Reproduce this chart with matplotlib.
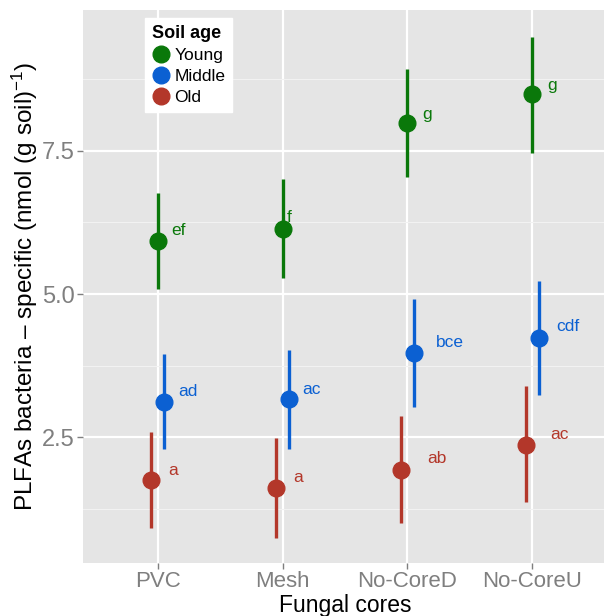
import numpy as np
import matplotlib
matplotlib.use('Agg')
import matplotlib.pyplot as plt
from matplotlib.lines import Line2D

plt.rcParams['font.family'] = ['Liberation Sans', 'DejaVu Sans']
plt.rcParams['mathtext.fontset'] = 'custom'
plt.rcParams['mathtext.rm'] = 'Liberation Sans'
plt.rcParams['mathtext.it'] = 'Liberation Sans:italic'

cores = ['PVC', 'Mesh', 'No-CoreD', 'No-CoreU']
ages = ['Young', 'Middle', 'Old']

young_mean = [5.92, 6.13, 7.98, 8.49]
young_lo = [5.09, 5.28, 7.05, 7.47]
young_hi = [6.76, 7.00, 8.92, 9.49]
young_letters = ['ef', 'f', 'g', 'g']

middle_mean = [3.12, 3.16, 3.98, 4.23]
middle_lo = [2.30, 2.30, 3.03, 3.23]
middle_hi = [3.95, 4.02, 4.91, 5.23]
middle_letters = ['ad', 'ac', 'bce', 'cdf']

old_mean = [1.75, 1.61, 1.93, 2.37]
old_lo = [0.92, 0.75, 1.00, 1.37]
old_hi = [2.59, 2.49, 2.88, 3.39]
old_letters = ['a', 'a', 'ab', 'ac']

colors = {'Young': '#0a780a', 'Middle': '#0b60d2', 'Old': '#b3372a'}
dodge = {'Young': 0.0, 'Middle': 0.052, 'Old': -0.052}
# letter offsets in points (dx, dy) from each point
letter_dx = {'Young': [9.6, 3.1, 10.8, 11.0],
             'Middle': [10.1, 9.6, 16.1, 13.0],
             'Old': [11.8, 12.0, 18.7, 18.0]}
letter_dy = {'Young': [7.7, 8.4, 6.5, 6.3],
             'Middle': [7.4, 7.5, 7.4, 8.1],
             'Old': [7.2, 7.6, 8.1, 7.4]}

series = {
    'Young': (young_mean, young_lo, young_hi, young_letters),
    'Middle': (middle_mean, middle_lo, middle_hi, middle_letters),
    'Old': (old_mean, old_lo, old_hi, old_letters),
}

fig = plt.figure(figsize=(6.04, 6.16), dpi=100)
ax = fig.add_axes([83 / 604, (616 - 562.7) / 616, 524 / 604, 552.7 / 616])
ax.set_facecolor('#e5e5e5')
for s in ax.spines.values():
    s.set_visible(False)

x = np.arange(1, len(cores) + 1)
ax.set_xlim(0.4, 4.6)
ax.set_ylim(0.312, 9.957)
ax.set_xticks(x)
ax.set_xticklabels(cores)
ax.set_yticks([2.5, 5.0, 7.5])
ax.set_yticklabels(['2.5', '5.0', '7.5'])
ax.set_yticks([1.25, 3.75, 6.25, 8.75], minor=True)
ax.tick_params(axis='both', which='major', colors='#7f7f7f',
               length=4, width=1, pad=2)
ax.tick_params(axis='x', labelsize=16)
ax.tick_params(axis='y', labelsize=17)
ax.tick_params(axis='y', which='minor', length=0)
ax.grid(True, which='major', color='white', linewidth=1.6)
ax.grid(True, which='minor', axis='y', color='#f2f2f2', linewidth=0.8)
ax.set_axisbelow(True)

for age in ages:
    mean, lo, hi, letters = series[age]
    mean = np.array(mean)
    xs = x + dodge[age]
    ax.vlines(xs, lo, hi, color=colors[age], linewidth=2.4, zorder=3)
    ax.plot(xs, mean, 'o', color=colors[age], markersize=12, zorder=4)
    for i, lab in enumerate(letters):
        ax.annotate(lab, (xs[i], mean[i]), xytext=(letter_dx[age][i], letter_dy[age][i]),
                    textcoords='offset points', ha='left', va='center',
                    color=colors[age], fontsize=12.5)

ax.set_xlabel('Fungal cores', fontsize=16.5, color='black', va='top')
ax.xaxis.set_label_coords(0.5, -0.057)
ax.set_ylabel(r'PLFAs bacteria – specific (nmol (g soil)$^{-1}$)',
              fontsize=17.5, color='black')
ax.yaxis.set_label_coords(-0.082, 0.5)

handles = [Line2D([], [], marker='o', linestyle='none', color=colors[a], markersize=12)
           for a in ages]
leg = ax.legend(handles, ages, title='Soil age', loc='upper left',
                bbox_to_anchor=(145 / 604, 1 - 18 / 616), bbox_transform=fig.transFigure,
                borderaxespad=0, fontsize=12.5, title_fontproperties={'weight': 'bold', 'size': 13},
                frameon=True, fancybox=False, framealpha=1, edgecolor='white',
                handlelength=1.0, handletextpad=0.3, labelspacing=0.33, borderpad=0.4,
                alignment='left')

fig.savefig('out.png', dpi=100)
